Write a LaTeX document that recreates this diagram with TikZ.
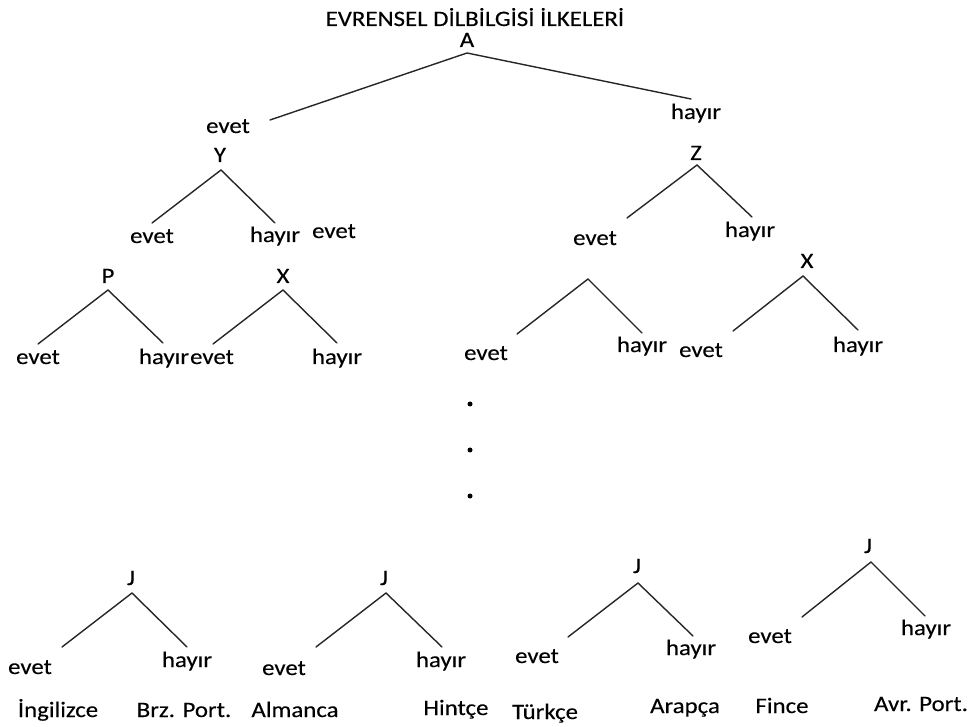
\documentclass[tikz,border=0pt]{standalone}
\usepackage{fontspec}
\setmainfont{Carlito}[FakeStretch=1.13,FakeBold=0.25]
\begin{document}
\begin{tikzpicture}[x=1pt,y=-1pt,
  lbl/.style={anchor=base,inner sep=0pt,font=\fontsize{22}{26}\selectfont},
  br/.style={line width=1.4pt,draw=black!85,line cap=round},
  dotm/.style={circle,fill=black,inner sep=0pt,minimum size=5pt}]
\useasboundingbox (0,0) rectangle (970,727);
% text nodes
\node[lbl] (title) at (475,26) {EVRENSEL DİLBİLGİSİ İLKELERİ};
\node[lbl] (A) at (467,47) {A};
\node[lbl] (e1) at (228,133) {evet};
\node[lbl] (h1) at (696,119) {hayır};
\node[lbl] (Y) at (220,162) {Y};
\node[lbl] (Z) at (696,160) {Z};
\node[lbl] (Ye) at (152,243) {evet};
\node[lbl] (Yh) at (275,242) {hayır};
\node[lbl] (lone) at (334,238) {evet};
\node[lbl] (Ze) at (595,245) {evet};
\node[lbl] (Zh) at (750,237) {hayır};
\node[lbl] (P) at (108,283) {P};
\node[lbl] (X1) at (283,283) {X};
\node[lbl] (Pe) at (38,364) {evet};
\node[lbl] (Ph) at (164,364) {hayır};
\node[lbl] (X1e) at (212,364) {evet};
\node[lbl] (X1h) at (337,364) {hayır};
\node[lbl] (Me) at (486,360) {evet};
\node[lbl] (Mh) at (642,352) {hayır};
\node[lbl] (X2) at (807,268) {X};
\node[lbl] (X2e) at (701,357) {evet};
\node[lbl] (X2h) at (858,352) {hayır};
\node[dotm] (d1) at (470,404) {};
\node[dotm] (d2) at (470,450) {};
\node[dotm] (d3) at (470,496) {};
\node[lbl] (J1) at (131,585) {J};
\node[lbl] (J1e) at (30,674) {evet};
\node[lbl] (J1h) at (187,667) {hayır};
\node[lbl] (L1) at (58,717) {İngilizce};
\node[lbl] (L2) at (184,717) {Brz. Port.};
\node[lbl] (J2) at (384,585) {J};
\node[lbl] (J2e) at (284,675) {evet};
\node[lbl] (J2h) at (441,667) {hayır};
\node[lbl] (L3) at (295,717) {Almanca};
\node[lbl] (L4) at (456,715) {Hintçe};
\node[lbl] (J3) at (637,573) {J};
\node[lbl] (J3e) at (537,663) {evet};
\node[lbl] (J3h) at (691,655) {hayır};
\node[lbl] (L5) at (545,719) {Türkçe};
\node[lbl] (L6) at (685,713) {Arapça};
\node[lbl] (J4) at (868,553) {J};
\node[lbl] (J4e) at (770,643) {evet};
\node[lbl] (J4h) at (926,635) {hayır};
\node[lbl] (L7) at (782,713) {Fince};
\node[lbl] (L8) at (921,711) {Avr. Port.};
% branch coordinates
\coordinate (Aa) at (467,53);  \coordinate (Al) at (270,120); \coordinate (Ar) at (691,99);
\coordinate (Ya) at (221,170); \coordinate (Yl) at (152,223); \coordinate (Yr) at (275,223);
\coordinate (Za) at (697,165); \coordinate (Zl) at (627,218); \coordinate (Zr) at (752,217);
\coordinate (Pa) at (108,290); \coordinate (Pl) at (38,344);  \coordinate (Pr) at (163,343);
\coordinate (Xa) at (283,290); \coordinate (Xl) at (213,344); \coordinate (Xr) at (337,343);
\coordinate (Ma) at (588,279); \coordinate (Ml) at (517,334); \coordinate (Mr) at (642,333);
\coordinate (Wa) at (803,276); \coordinate (Wl) at (733,331); \coordinate (Wr) at (858,330);
\coordinate (Ja1) at (132,593); \coordinate (Jl1) at (62,647);  \coordinate (Jr1) at (187,647);
\coordinate (Ja2) at (386,593); \coordinate (Jl2) at (316,647); \coordinate (Jr2) at (442,647);
\coordinate (Ja3) at (638,583); \coordinate (Jl3) at (568,637); \coordinate (Jr3) at (693,636);
\coordinate (Ja4) at (871,562); \coordinate (Jl4) at (802,617); \coordinate (Jr4) at (925,616);
\foreach \a/\l/\r in {Aa/Al/Ar,Ya/Yl/Yr,Za/Zl/Zr,Pa/Pl/Pr,Xa/Xl/Xr,Ma/Ml/Mr,Wa/Wl/Wr,Ja1/Jl1/Jr1,Ja2/Jl2/Jr2,Ja3/Jl3/Jr3,Ja4/Jl4/Jr4}
  \draw[br] (\l) -- (\a) -- (\r);
\end{tikzpicture}
\end{document}
